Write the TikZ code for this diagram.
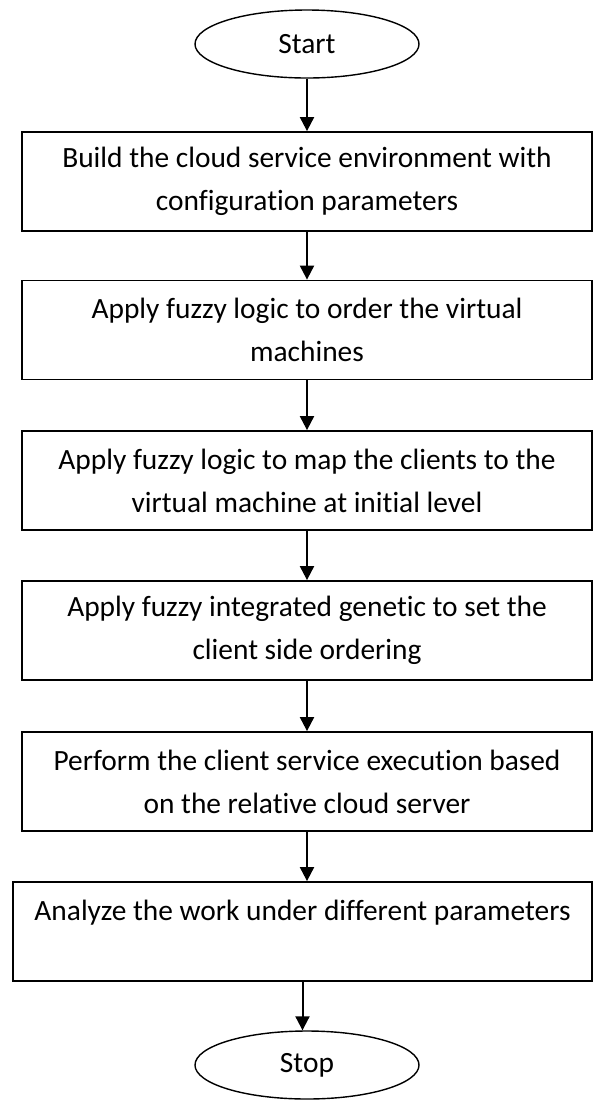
\documentclass[tikz,border=0pt]{standalone}
\usepackage{fontspec}
\setmainfont{Carlito}[Ligatures=NoCommon]
\usetikzlibrary{shapes.geometric,arrows.meta}

\begin{document}
\begin{tikzpicture}[
      x=0.5pt, y=-0.5pt,
      every node/.style={font=\fontsize{14.7}{21.5}\selectfont},
      stepbox/.style={draw, line width=0.9pt, minimum width=285pt, minimum height=49.5pt, align=center, inner sep=0pt},
      term/.style={draw, ellipse, line width=0.7pt, minimum width=112pt, minimum height=34pt, inner sep=0pt},
      flow/.style={-{Triangle[length=7pt,width=7pt]}, line width=1pt}
    ]
    \useasboundingbox (0,0) rectangle (593,1100);
    \node[term] (start) at (307,44) {Start};
    \node[stepbox] (build) at (307,181.5) {Build the cloud service environment with\\configuration parameters};
    \node[stepbox] (order) at (307,330) {Apply fuzzy logic to order the virtual\\machines};
    \node[stepbox] (map) at (307,480.5) {Apply fuzzy logic to map the clients to the\\virtual machine at initial level};
    \node[stepbox] (genetic) at (307,630.5) {Apply fuzzy integrated genetic to set the\\client side ordering};
    \node[stepbox] (perform) at (307,781.5) {Perform the client service execution based\\on the relative cloud server};
    \node[stepbox, minimum width=289.5pt] (analyze) at (302.5,931.5) {Analyze the work under different parameters\\\mbox{}};
    \node[term] (stop) at (307,1065) {Stop};
    \foreach \a/\b in {start/build, build/order, order/map, map/genetic, genetic/perform, perform/analyze, analyze/stop}
      \draw[flow] (\a.south) -- (\a.south |- \b.north);
\end{tikzpicture}
\end{document}
